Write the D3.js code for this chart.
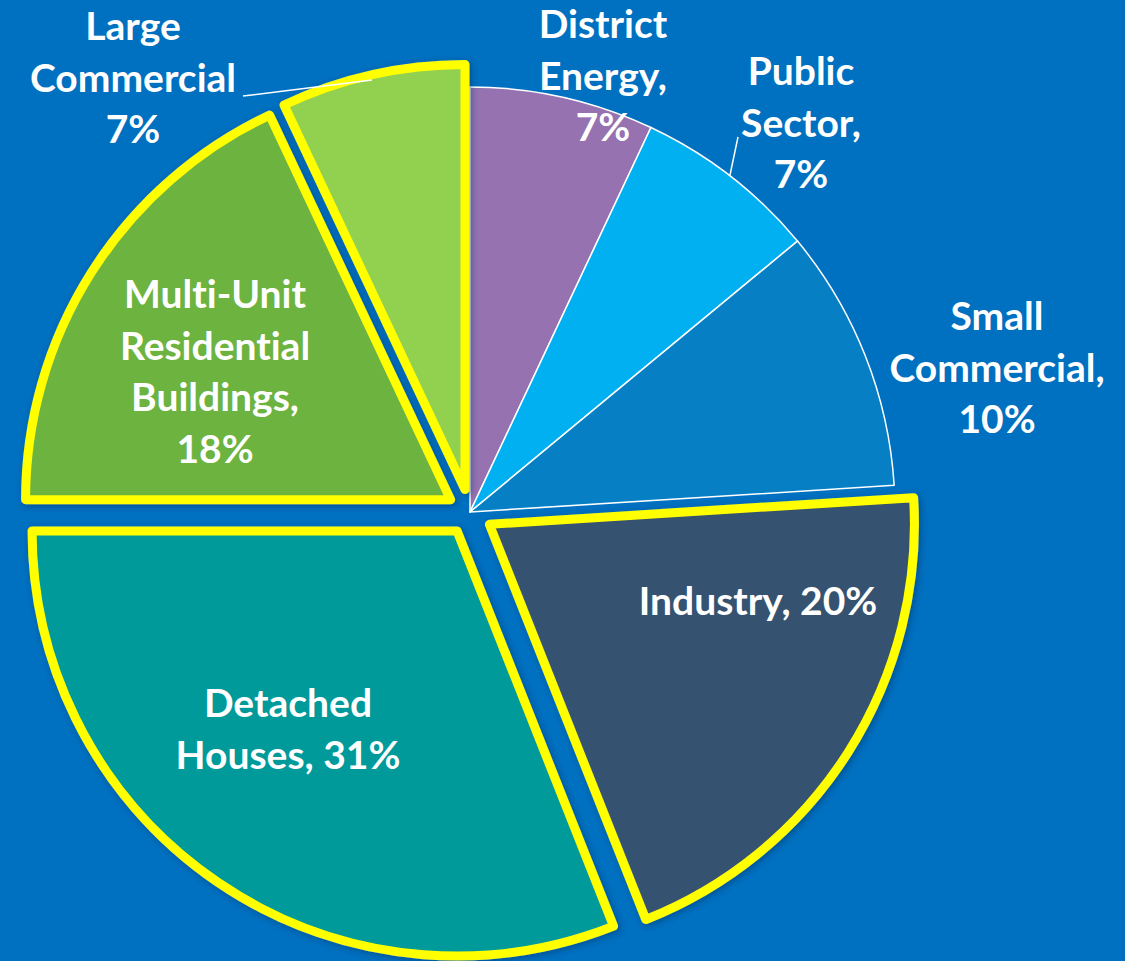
<!DOCTYPE html>
<html>
<head>
<meta charset="utf-8">
<script src="https://cdn.jsdelivr.net/npm/d3@7"></script>
<style>
  html, body { margin: 0; padding: 0; background: #0070C0; }
  svg { display: block; }
</style>
</head>
<body>
<script>
// data
var categories = ["District Energy", "Public Sector", "Small Commercial", "Industry", "Detached Houses", "Multi-Unit Residential Buildings", "Large Commercial"];
var shares = [7, 7, 10, 20, 31, 18, 7];
var highlighted = [false, false, false, true, true, true, true];
var labelLines = [
  ["District", "Energy,", "7%"],
  ["Public", "Sector,", "7%"],
  ["Small", "Commercial,", "10%"],
  ["Industry, 20%"],
  ["Detached", "Houses, 31%"],
  ["Multi-Unit", "Residential", "Buildings,", "18%"],
  ["Large", "Commercial", "7%"]
];

// dimensions
var width = 1125;
var height = 961;
var cx = 470, cy = 512;
var radius = 425;
var explode = 23;

// colors per slice
var colorScale = d3.scaleOrdinal()
  .domain(categories)
  .range(["#9672B1", "#00B0F0", "#067FC5", "#36526F", "#009A9A", "#6DB33F", "#92D050"]);

// label anchor (center x, first baseline) and leader lines
var labelPos = [[603, 38], [801, 85], [997, 330], [758, 615], [288, 717], [215, 308], [133, 40]];
var leaders = [null, [[738, 137], [730, 175]], null, null, null, null, [[243, 96], [372, 80]]];
var lineHeight = 51.5;

var svg = d3.select("body")
  .append("svg")
  .attr("width", width)
  .attr("height", height);

svg.append("rect")
  .attr("width", width)
  .attr("height", height)
  .attr("fill", "#0070C0");

// soft shadow for the pulled out slices
var defs = svg.append("defs");
var filter = defs.append("filter").attr("id", "shadow")
  .attr("x", "-10%").attr("y", "-10%").attr("width", "120%").attr("height", "120%");
filter.append("feDropShadow")
  .attr("dx", 2).attr("dy", 2).attr("stdDeviation", 3)
  .attr("flood-color", "#003060").attr("flood-opacity", 0.5);

var pie = d3.pie().sort(null).value(function (d) { return d; });
var arcs = pie(shares);
var arc = d3.arc().innerRadius(0).outerRadius(radius);

var chart = svg.append("g").attr("transform", "translate(" + cx + "," + cy + ")");

// leader lines go below the slices
leaders.forEach(function (l) {
  if (!l) return;
  svg.append("line")
    .attr("x1", l[0][0]).attr("y1", l[0][1])
    .attr("x2", l[1][0]).attr("y2", l[1][1])
    .attr("stroke", "white")
    .attr("stroke-width", 1.5);
});

// normal slices first, then highlighted ones on top
var order = d3.range(arcs.length).sort(function (a, b) { return highlighted[a] - highlighted[b]; });

chart.selectAll(".slice")
  .data(order.map(function (i) { return arcs[i]; }))
  .enter()
  .append("path")
  .attr("class", "slice")
  .attr("transform", function (d) {
    if (!highlighted[d.index]) return null;
    var mid = (d.startAngle + d.endAngle) / 2;
    return "translate(" + (Math.sin(mid) * explode) + "," + (-Math.cos(mid) * explode) + ")";
  })
  .attr("d", arc)
  .attr("fill", function (d) { return colorScale(categories[d.index]); })
  .attr("stroke", function (d) { return highlighted[d.index] ? "#FFFF00" : "white"; })
  .attr("stroke-width", function (d) { return highlighted[d.index] ? 9 : 1.5; })
  .attr("stroke-linejoin", "round")
  .attr("filter", function (d) { return highlighted[d.index] ? "url(#shadow)" : null; });

// labels
var labels = svg.selectAll(".label")
  .data(labelLines)
  .enter()
  .append("text")
  .attr("class", "label")
  .attr("text-anchor", "middle")
  .attr("font-family", "Lato, 'Open Sans', sans-serif")
  .attr("font-weight", "bold")
  .attr("font-size", 39)
  .style("font-variant-ligatures", "none")
  .attr("fill", "white");

labels.each(function (lines, i) {
  var t = d3.select(this);
  lines.forEach(function (s, j) {
    t.append("tspan")
      .attr("x", labelPos[i][0])
      .attr("y", labelPos[i][1] + j * lineHeight)
      .text(s);
  });
});
</script>
</body>
</html>
